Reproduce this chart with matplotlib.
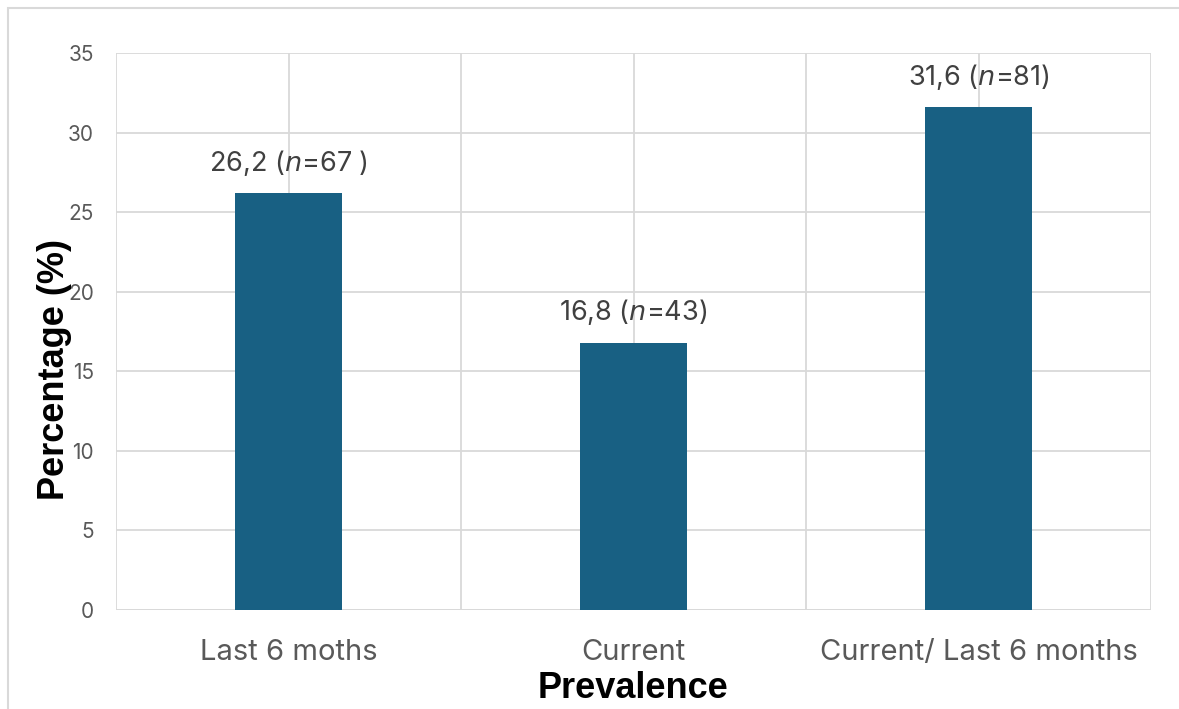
import matplotlib.pyplot as plt
from matplotlib.patches import Rectangle

# data
categories = ['Last 6 moths', 'Current', 'Current/ Last 6 months']
percentages = [26.2, 16.8, 31.6]
counts = ['67 ', '43', '81']
y_ticks = [0, 5, 10, 15, 20, 25, 30, 35]

bar_color = '#186083'
grid_color = '#d9d9d9'
tick_color = '#595959'

plt.rcParams['font.family'] = ['Inter', 'DejaVu Sans']
plt.rcParams['mathtext.fontset'] = 'custom'
plt.rcParams['mathtext.rm'] = 'Inter'
plt.rcParams['mathtext.it'] = 'DejaVu Sans:italic'

fig = plt.figure(figsize=(11.79, 7.09), dpi=100)
ax = fig.add_axes([116 / 1179, 1 - 610 / 709, 1035 / 1179, 557 / 709])

x = list(range(len(categories)))
ax.bar(x, percentages, width=0.313, color=bar_color, zorder=3)

# etiquetas em cima das barras
for xi, val, n in zip(x, percentages, counts):
    txt = str(val).replace('.', ',') + r' ($\it{n}$=' + n + ')'
    ax.annotate(txt, (xi, val), xytext=(0, 11), textcoords='offset points',
                ha='center', va='bottom', fontsize=19.5, color='#404040')

ax.set_xlim(-0.5, 2.5)
ax.set_ylim(0, 35)
ax.set_yticks(y_ticks)
ax.set_xticks(x)
ax.set_xticklabels(categories)
ax.set_xticks([-0.5, 0.5, 1.5, 2.5], minor=True)

ax.grid(True, which='both', color=grid_color, linewidth=1.3, zorder=0)
for s in ax.spines.values():
    s.set_visible(False)
ax.axhline(0, color=grid_color, linewidth=2, zorder=2)

ax.tick_params(axis='both', which='both', length=0)
ax.tick_params(axis='y', labelsize=15, labelcolor=tick_color, pad=16)
ax.tick_params(axis='x', labelsize=21, labelcolor=tick_color, pad=21)

fig.text(633 / 1179, 1 - 688 / 709, 'Prevalence', ha='center', va='center',
         fontsize=26, fontweight='bold', family='Liberation Sans')
fig.text(55 / 1179, 1 - 370 / 709, 'Percentage (%)', ha='center', va='center',
         rotation=90, fontsize=26, fontweight='bold', family='Liberation Sans')

# moldura cinza da figura
fig.patches.append(Rectangle((8 / 1179, -0.2), 1.2, 1.2 - 8 / 709,
                             transform=fig.transFigure, fill=False,
                             edgecolor=grid_color, linewidth=1.5))

fig.savefig('out.png', dpi=100)
